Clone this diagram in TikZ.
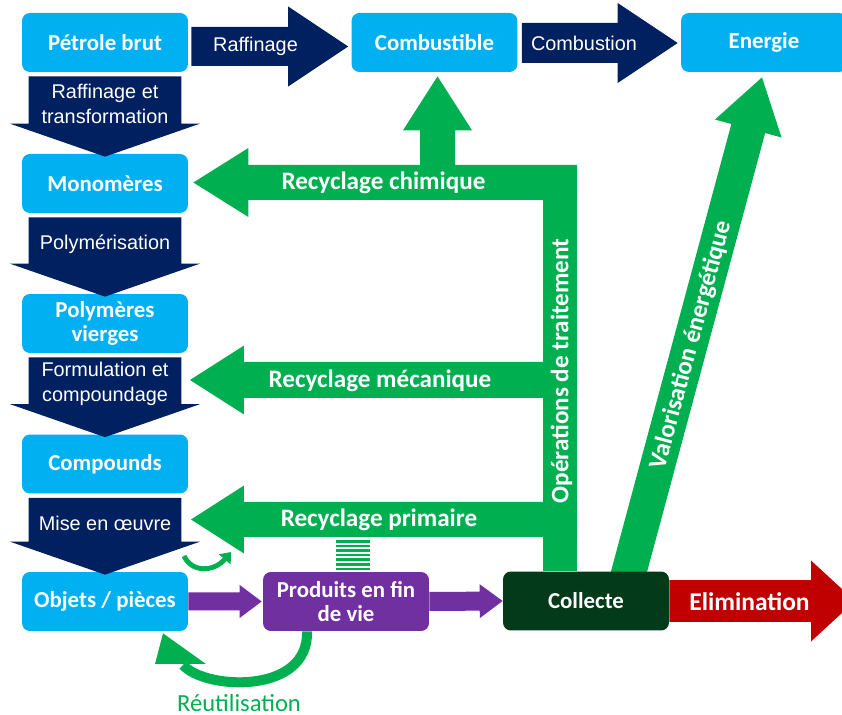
\documentclass[tikz,border=0pt]{standalone}
\usepackage{fontspec}
\setmainfont{Carlito}
\newfontfamily\arialfont{Liberation Sans}
\usetikzlibrary{calc,arrows.meta,backgrounds}

\definecolor{ciel}{HTML}{00B0F0}
\definecolor{marine}{HTML}{002060}
\definecolor{vert}{HTML}{00B050}
\definecolor{pourpre}{HTML}{7030A0}
\definecolor{sapin}{HTML}{033A19}
\definecolor{rouge}{HTML}{C00000}

% block arrow: [colour]{start}{tip}{half shaft}{half head}{head length}
\newcommand{\flechebloc}[6][marine]{%
  \coordinate (hb) at ($(#3)!#6!(#2)$);
  \fill[#1] ($(#2)!#4!90:(#3)$) -- ($(hb)!#4!90:(#3)$) -- ($(hb)!#5!90:(#3)$) -- (#3)
    -- ($(hb)!#5!-90:(#3)$) -- ($(hb)!#4!-90:(#3)$) -- ($(#2)!#4!-90:(#3)$) -- cycle;
}

\tikzset{
  boite/.style={fill=ciel,rounded corners=4.5pt,minimum width=3.32cm,minimum height=1.18cm,
    inner sep=0pt,text=white,align=center,font=\bfseries\fontsize{13}{13.3}\selectfont},
  fleche/.style={text=white,align=center,font=\arialfont\fontsize{11.3}{14.2}\selectfont},
  recyc/.style={text=white,inner sep=0pt,font=\bfseries\fontsize{14.3}{16}\selectfont}
}

\begin{document}
\begin{tikzpicture}[x=0.02cm,y=-0.02cm]
\useasboundingbox (0,0) rectangle (842,715);

% boxes
\node[boite] (petrole) at (105,42.5) {Pétrole brut};
\node[boite] (combustible) at (434.5,42.5) {Combustible};
\node[boite] (energie) at (764,42.5) {Energie};
\node[boite] (monomeres) at (105,183.5) {Monomères};
\node[boite] (polymeres) at (105,323.5) {Polymères\\vierges};
\node[boite] (compounds) at (105,464) {Compounds};
\node[boite] (objets) at (105,601.5) {Objets / pièces};
\node[boite,fill=pourpre] (produits) at (346,601.5) {Produits en fin\\de vie};
\node[boite,fill=sapin] (collecte) at (586,601) {Collecte};

% green network, behind the boxes
\coordinate (chimA) at (577,182.5);
\coordinate (chimB) at ($(monomeres.east)+(5,-1)$);
\coordinate (mecaA) at (577,380);
\coordinate (mecaB) at (190,380);
\coordinate (primA) at (577,519.5);
\coordinate (primB) at (191,519.5);
\coordinate (combA) at (437.5,182.5);
\coordinate (combB) at ($(combustible.south)+(3,4)$);
\coordinate (valoA) at ($(collecte.north)+(41,8)$);
\coordinate (valoB) at ($(energie.south)+(-2,5)$);
\begin{scope}[on background layer]
  \fill[vert] ($(collecte.north)+(-43,0)$) rectangle (577,165);
  \flechebloc[vert]{chimA}{chimB}{0.35cm}{0.69cm}{1.1cm}
  \flechebloc[vert]{mecaA}{mecaB}{0.36cm}{0.69cm}{1.08cm}
  \flechebloc[vert]{primA}{primB}{0.35cm}{0.68cm}{1.06cm}
  \flechebloc[vert]{combA}{combB}{0.35cm}{0.69cm}{1.08cm}
  \flechebloc[vert]{valoA}{valoB}{0.35cm}{0.69cm}{1.06cm}
  \foreach \i in {0,...,6}
    \fill[vert] (336,{540+4.6*\i}) rectangle (370,{542.6+4.6*\i});
\end{scope}

% small loop under Mise en oeuvre
\draw[vert,line width=2.8pt,-{Triangle[length=5.5pt,width=8.5pt]}] (184,556) .. controls (192,573) and (214,572) .. (231,552);

% reuse loop
\coordinate (reuA) at ($(produits.south)+(-39,0)$);
\coordinate (reuB) at ($(objets.south)+(58,2)$);
\draw[vert,line width=5.7pt] (reuA) .. controls (309,695) and (205,690) .. (183,665);
\fill[vert] (155,664) -- (reuB) -- (206,664) -- cycle;
\node[text=vert,font=\fontsize{14}{16}\selectfont] (txtreu) at (239,703) {Réutilisation};

% navy arrows
\coordinate (rafA) at ($(petrole.east)+(3,4)$);
\coordinate (rafB) at ($(combustible.west)+(-3,4)$);
\flechebloc{rafA}{rafB}{0.39cm}{0.8cm}{1.2cm}
\node[fleche] (txtraf) at (255.5,46.5) {Raffinage};
\coordinate (cbsA) at ($(combustible.east)+(4,0.5)$);
\coordinate (cbsB) at ($(energie.west)+(-3,0.5)$);
\flechebloc{cbsA}{cbsB}{0.4cm}{0.8cm}{1.2cm}
\node[fleche] (txtcbs) at (584,43) {Combustion};

\foreach \de/\vers/\lbl in {petrole/monomeres/{Raffinage et\\transformation},
    monomeres/polymeres/Polymérisation, polymeres/compounds/{Formulation et\\compoundage},
    compounds/objets/{Mise en œuvre}}
{
  \coordinate (\de A) at ($(\de.south)+(0,4)$);
  \coordinate (\de B) at ($(\vers.north)+(0,3)$);
  \flechebloc{\de A}{\de B}{1.53cm}{1.9cm}{0.66cm}
  \node[fleche] (txt\de) at ($(\de A)!0.5!(\de B)+(0,-13)$) {\lbl};
}

% purple arrows
\coordinate (objA) at (objets.east);
\coordinate (objB) at ($(produits.west)+(-1,0)$);
\flechebloc[pourpre]{objA}{objB}{0.18cm}{0.33cm}{0.44cm}
\coordinate (proA) at (produits.east);
\coordinate (proB) at (collecte.west);
\flechebloc[pourpre]{proA}{proB}{0.19cm}{0.34cm}{0.46cm}

% elimination
\coordinate (elimA) at (collecte.east);
\coordinate (elimB) at (855,601);
\begin{scope}
  \clip (0,0) rectangle (842,715);
  \flechebloc[rouge]{elimA}{elimB}{0.42cm}{0.81cm}{0.88cm}
\end{scope}

% green labels
\node[recyc] (txtchim) at (383.5,183) {Recyclage chimique};
\node[recyc] (txtmeca) at (380,381) {Recyclage mécanique};
\node[recyc] (txtprim) at (379,520) {Recyclage primaire};
\node[recyc,rotate=90] (txtope) at (561.5,371) {Opérations de traitement};
\node[recyc,rotate=75] (txtvalo) at (691,345) {Valorisation énergétique};
\node[recyc,font=\bfseries\fontsize{14.5}{16}\selectfont] (txtelim) at (749.5,602) {Elimination};

\end{tikzpicture}
\end{document}
